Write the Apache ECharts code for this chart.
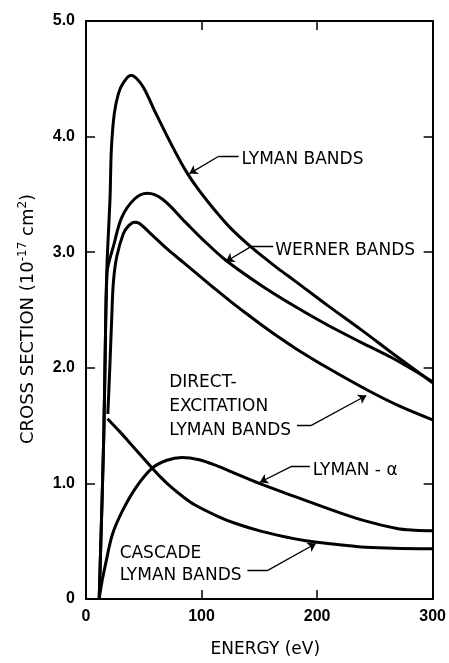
<!DOCTYPE html>
<html>
<head>
<meta charset="utf-8">
<script src="https://cdn.jsdelivr.net/npm/echarts@6/dist/echarts.min.js"></script>
<style>
html,body{margin:0;padding:0;background:#fff;}
#chart{width:449px;height:663px;}
</style>
</head>
<body>
<div id="chart"></div>
<script>
// ---- data (energy in eV, cross section in 1e-17 cm^2) ----
const lymanBands = [[11.4,0],[15.4,1.42],[17.1,2.44],[18.2,2.9],[20.8,3.47],[22,3.9],[24.5,4.2],[28,4.37],[32,4.46],[39,4.53],[44,4.50],[50,4.42],[61,4.19],[74,3.93],[86,3.71],[96,3.56],[106,3.43],[116,3.31],[126,3.20],[140,3.07],[152,2.97],[166,2.86],[181,2.75],[209,2.54],[238,2.33],[266,2.12],[300,1.87]];
const wernerBands = [[11.4,0],[15.4,1.42],[17.1,2.44],[18.2,2.82],[19.5,2.9],[23.7,3.05],[30.9,3.30],[42,3.46],[53,3.51],[66,3.46],[86,3.26],[100,3.12],[121,2.93],[152,2.71],[181,2.53],[209,2.37],[238,2.22],[266,2.08],[300,1.88]];
const directLyman = [[18.9,1.60],[20.6,2.0],[22.3,2.44],[23.7,2.74],[26.6,2.96],[32.3,3.16],[37,3.23],[42,3.26],[46,3.25],[55,3.17],[70,3.03],[85,2.905],[100,2.78],[112,2.68],[125,2.575],[138,2.475],[152,2.37],[166,2.27],[181,2.17],[209,2.00],[243,1.81],[270,1.675],[300,1.55]];
const lymanAlpha = [[11.4,0],[14,0.16],[17.1,0.31],[22.9,0.56],[31.4,0.76],[42.9,0.96],[57,1.13],[70,1.20],[83,1.225],[98,1.205],[114,1.15],[126,1.10],[150,1.00],[181,0.885],[210,0.78],[240,0.68],[269,0.61],[285,0.595],[300,0.59]];
const cascadeLyman = [[18.6,1.56],[29,1.45],[37,1.36],[55.7,1.15],[65,1.05],[74,0.965],[84,0.885],[94,0.815],[113,0.72],[129,0.655],[152,0.585],[181,0.52],[200,0.49],[238,0.45],[266,0.44],[300,0.435]];

const xTickLabels = ['0','100','200','300'];
const yTickLabels = ['0','1.0','2.0','3.0','4.0','5.0'];

const annotationTexts = ['LYMAN BANDS','WERNER BANDS','DIRECT-\nEXCITATION\nLYMAN BANDS','LYMAN - α','CASCADE\nLYMAN BANDS'];
const annotationAnchors = [[134.6,3.80],[163.7,3.015],[72,1.665],[196.3,1.11],[29.1,0.30]];
const leaderPaths = [
  [[132,3.83],[114.9,3.83],[89.5,3.68]],
  [[162,3.05],[143.1,3.05],[121.2,2.92]],
  [[182.6,1.50],[194.6,1.50],[242.6,1.76]],
  [[193.7,1.145],[177.4,1.145],[150.5,1.01]],
  [[139.7,0.25],[157.7,0.25],[198.9,0.48]]
];

const curveNames = ['Lyman bands','Werner bands','Direct-excitation Lyman bands','Lyman-α','Cascade Lyman bands'];
const curves = [lymanBands, wernerBands, directLyman, lymanAlpha, cascadeLyman];

const chart = echarts.init(document.getElementById('chart'), null, {renderer:'canvas'});
const tickFont = "'Liberation Sans', Arial, sans-serif";
const textFont = "'DejaVu Sans', sans-serif";

const axisCommon = {
  type:'value',
  axisLine:{show:true, onZero:false, lineStyle:{color:'#000', width:2}},
  axisTick:{show:true, inside:true, length:9, lineStyle:{color:'#000', width:1.5}},
  splitLine:{show:false}
};

const series = curves.map((d,i)=>({
  name: curveNames[i],
  type:'line',
  data:d,
  smooth:0.35,
  showSymbol:false,
  symbol:'none',
  silent:true,
  lineStyle:{color:'#000', width:3},
  z:3
}));

// leader lines: horizontal part + arrowed diagonal part
series.push({
  type:'lines',
  coordinateSystem:'cartesian2d',
  silent:true,
  symbol:'none',
  lineStyle:{color:'#000', width:1.3, opacity:1},
  data: leaderPaths.map(p=>({coords:[p[0],p[1]]})),
  z:4
});
series.push({
  type:'lines',
  coordinateSystem:'cartesian2d',
  silent:true,
  symbol:['none','arrow'],
  symbolSize:8,
  lineStyle:{color:'#000', width:1.3, opacity:1},
  data: leaderPaths.map(p=>({coords:[p[1],p[2]]})),
  z:4
});

series.push({
  type:'scatter',
  silent:true,
  symbolSize:0,
  itemStyle:{color:'#000'},
  data: annotationAnchors.map((a,i)=>({
    value:a,
    label:{
      show:true,
      position:'right',
      distance:0,
      formatter: annotationTexts[i],
      color:'#000',
      opacity:1,
      fontFamily:textFont,
      fontSize:17,
      lineHeight: i===2 ? 24 : 22,
      align:'left'
    }
  })),
  z:5
});

chart.setOption({
  animation:false,
  backgroundColor:'#fff',
  grid:{left:86, right:13, top:21, bottom:57, containLabel:false},
  xAxis:[
    Object.assign({}, axisCommon, {
      position:'bottom', min:0, max:300, interval:100,
      axisLabel:{show:true, margin:10, color:'#000', fontFamily:tickFont, fontSize:16, fontWeight:'bold',
        formatter:v=>xTickLabels[Math.round(v/100)]},
      name:'ENERGY (eV)', nameLocation:'middle', nameGap:42,
      nameTextStyle:{color:'#000', fontFamily:textFont, fontSize:17, padding:[0,0,0,12]}
    }),
    Object.assign({}, axisCommon, {
      position:'top', min:0, max:300, interval:100, axisLabel:{show:false}
    })
  ],
  yAxis:[
    Object.assign({}, axisCommon, {
      position:'left', min:0, max:5, interval:1,
      axisLabel:{show:true, margin:11, color:'#000', fontFamily:tickFont, fontSize:16, fontWeight:'bold',
        formatter:v=>yTickLabels[Math.round(v)]},
      name:'CROSS SECTION (10{sup|-17} cm{sup|2})', nameLocation:'middle', nameGap:47, nameRotate:90,
      nameTextStyle:{color:'#000', fontFamily:textFont, fontSize:18, padding:[0,18,0,0],
        rich:{sup:{fontFamily:textFont, fontSize:12, verticalAlign:'top', padding:[0,0,10,0], color:'#000'}}}
    }),
    Object.assign({}, axisCommon, {
      position:'right', min:0, max:5, interval:1, axisLabel:{show:false}
    })
  ],
  series: series
});
</script>
</body>
</html>
